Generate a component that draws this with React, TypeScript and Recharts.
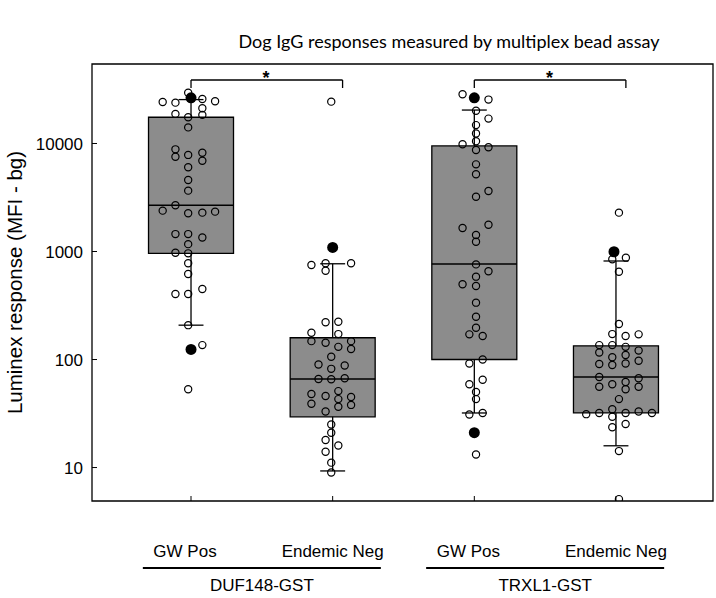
import React from 'react';
import { ComposedChart, Scatter, XAxis, YAxis, ReferenceArea, ReferenceLine, ReferenceDot, Label } from 'recharts';

const categories = ['GW Pos', 'Endemic Neg', 'GW Pos', 'Endemic Neg'];
const antigens = ['DUF148-GST', 'TRXL1-GST'];
const yTicks = [10, 100, 1000, 10000];

// box statistics, one entry per category
const lowWhisker = [208, 9.3, 32, 15.9];
const q1 = [962, 29.5, 100, 32];
const median = [2680, 66, 765, 69];
const q3 = [17500, 159, 9490, 134];
const highWhisker = [25500, 770, 20400, 817];

// individual dogs (open circles), with horizontal jitter in category units
const g1Vals = [29500, 24200, 23900, 25800, 24600, 18800, 17500, 21200, 18400, 14100, 8830, 7550, 7840, 8220, 6930, 6030, 4590, 3660, 2390, 2680, 2260, 2290, 2340, 1450, 1450, 1350, 1170, 975, 962, 778, 620, 404, 404, 450, 208, 136, 53];
const g1Jit = [-0.02, -0.2, -0.11, 0.08, 0.17, -0.11, -0.02, 0.08, 0.08, -0.02, -0.11, -0.11, -0.02, 0.08, 0.08, -0.02, -0.02, -0.02, -0.2, -0.11, -0.02, 0.08, 0.17, -0.11, -0.02, 0.08, -0.02, -0.11, -0.02, -0.02, -0.02, -0.11, -0.02, 0.08, -0.02, 0.08, -0.02];

const g2Vals = [24400, 750, 778, 664, 778, 221, 224, 177, 172, 148, 143, 131, 148, 125, 106, 90, 88, 82, 66, 65.6, 67, 48, 46, 51, 45, 39, 43, 38, 36.5, 33, 25, 21, 18, 16, 14, 11.1, 9];
const g2Jit = [-0.01, -0.15, -0.05, -0.05, 0.13, -0.05, 0.04, -0.15, 0.04, -0.15, -0.05, 0.04, 0.13, 0.13, -0.01, -0.1, 0.085, -0.01, -0.1, -0.01, 0.085, -0.15, -0.05, 0.04, 0.13, -0.15, 0.04, 0.13, 0.04, -0.05, -0.01, -0.01, -0.05, 0.04, -0.05, -0.01, -0.01];

const g3Vals = [28600, 25500, 20100, 17000, 14800, 12400, 10500, 9840, 8710, 9220, 6410, 5190, 3210, 3630, 1650, 1420, 1230, 1770, 760, 585, 656, 497, 480, 336, 249, 197, 171, 165, 92, 100, 59, 65, 50, 43, 31, 32, 13.2];
const g3Jit = [-0.083, 0.1, 0.012, 0.1, 0.012, 0.012, 0.012, -0.083, 0.012, 0.1, 0.012, 0.012, 0.012, 0.1, -0.083, 0.012, 0.012, 0.1, 0.012, 0.012, 0.1, -0.083, 0.012, 0.012, 0.012, 0.012, -0.035, 0.059, -0.035, 0.059, -0.035, 0.059, 0.012, 0.012, -0.035, 0.059, 0.012];

const g4Vals = [2290, 847, 877, 650, 213, 172, 165, 171, 136, 136, 131, 116, 105, 110, 121, 89, 91, 92, 97.5, 69, 67, 56, 59, 62, 53, 56, 43, 34.6, 31.2, 32, 32, 33, 32, 29.5, 23.6, 25.3, 14.2, 5.1];
const g4Jit = [0.021, -0.026, 0.07, 0.021, 0.021, -0.026, 0.068, 0.16, -0.118, -0.026, 0.068, -0.118, -0.026, 0.068, 0.16, -0.026, -0.118, 0.068, 0.16, -0.118, 0.16, -0.118, -0.026, 0.068, 0.068, 0.16, 0.021, -0.026, -0.21, -0.118, 0.068, 0.16, 0.254, -0.026, -0.026, 0.068, 0.021, 0.021];

// highlighted dogs (filled circles)
const filledVals = [[26500, 124], [1090], [26500, 21], [995]];
const filledJit = [[0, 0], [0], [0, 0], [-0.014]];

const groupVals = [g1Vals, g2Vals, g3Vals, g4Vals];
const groupJit = [g1Jit, g2Jit, g3Jit, g4Jit];

const X_MIN = 0.301;
const X_MAX = 4.685;
const Y_MIN = 4.9;
const Y_MAX = 54450;
const BRACKET_Y = 38700;
const BRACKET_END = 32660;

const openPoints = groupVals.flatMap((vals, g) => vals.map((v, i) => ({ x: g + 1 + groupJit[g][i], y: v })));
const filledPoints = filledVals.flatMap((vals, g) => vals.map((v, i) => ({ x: g + 1 + filledJit[g][i], y: v })));

const OpenDot = (p: any) => <circle cx={p.cx} cy={p.cy} r={3.6} fill="none" stroke="#000" strokeWidth={1.2} />;
const FilledDot = (p: any) => <circle cx={p.cx} cy={p.cy} r={5.5} fill="#000" />;

const font = 'Liberation Sans';

// integer ticks carry the category names, the .5 ticks the antigen groups
const BottomTick = (p: any) => {
    const v = p.payload.value;
    if (Number.isInteger(v)) {
        return (
            <g>
                <line x1={p.x} x2={p.x} y1={p.y} y2={p.y - 5} stroke="#000" strokeWidth={1} />
                <text x={v % 2 === 1 ? p.x - 6 : p.x} y={p.y + 56} textAnchor="middle" fontSize={17} fontFamily={font} fill="#000">{categories[v - 1]}</text>
            </g>
        );
    }
    return (
        <g>
            <line x1={p.x - 119} x2={p.x + 119} y1={p.y + 67} y2={p.y + 67} stroke="#000" strokeWidth={2} />
            <text x={p.x} y={p.y + 90} textAnchor="middle" fontSize={17} fontFamily={font} fill="#000">{antigens[v < 2 ? 0 : 1]}</text>
        </g>
    );
};

const tickFont = { fill: '#000', fontSize: 17, fontFamily: font };

export default function App() {
    return (
        <div style={{ position: 'absolute', left: 0, top: 0, width: 716, height: 598, background: '#fff' }}>
            <div style={{ position: 'absolute', left: 199, width: 500, top: 30, textAlign: 'center', fontFamily: 'Lato', fontSize: 18, color: '#000', whiteSpace: 'nowrap' }}>
                Dog IgG responses measured by multiplex bead assay
            </div>
            <ComposedChart width={716} height={598} margin={{ top: 64, right: 3, bottom: 0, left: 0 }}>
                <XAxis xAxisId="cat" dataKey="x" type="number" domain={[X_MIN, X_MAX]} allowDataOverflow ticks={[1, 1.5, 2, 3, 3.5, 4]}
                    height={97} axisLine={false} tickLine={false} tickSize={0} tickMargin={0} tick={<BottomTick />} interval={0} />
                <YAxis dataKey="y" type="number" scale="log" domain={[Y_MIN, Y_MAX]} allowDataOverflow ticks={yTicks}
                    width={92} axisLine={false} tickSize={-5} tickMargin={14} tickLine={{ stroke: '#000' }} tick={tickFont}>
                    <Label content={(props: any) => {
                        const vb = props.viewBox;
                        const cx = vb.x + 14;
                        const cy = vb.y + vb.height / 2;
                        return (
                            <text x={cx} y={cy} transform={`rotate(-90 ${cx} ${cy})`} textAnchor="middle" dominantBaseline="central"
                                fontSize={20.5} fontFamily={font} fill="#000">Luminex response (MFI - bg)</text>
                        );
                    }} />
                </YAxis>

                {categories.map((_, i) => (
                    <ReferenceArea key={`box${i}`} xAxisId="cat" x1={i + 1 - 0.3} x2={i + 1 + 0.3} y1={q1[i]} y2={q3[i]}
                        fill="#8c8c8c" fillOpacity={1} stroke="#000" strokeWidth={1.3} />
                ))}
                {categories.map((_, i) => (
                    <ReferenceLine key={`wu${i}`} xAxisId="cat" segment={[{ x: i + 1, y: q3[i] }, { x: i + 1, y: highWhisker[i] }]} stroke="#000" strokeWidth={1.3} />
                ))}
                {categories.map((_, i) => (
                    <ReferenceLine key={`wl${i}`} xAxisId="cat" segment={[{ x: i + 1, y: q1[i] }, { x: i + 1, y: lowWhisker[i] }]} stroke="#000" strokeWidth={1.3} />
                ))}
                {categories.map((_, i) => (
                    <ReferenceLine key={`cu${i}`} xAxisId="cat" segment={[{ x: i + 1 - 0.088, y: highWhisker[i] }, { x: i + 1 + 0.088, y: highWhisker[i] }]} stroke="#000" strokeWidth={1.3} />
                ))}
                {categories.map((_, i) => (
                    <ReferenceLine key={`cl${i}`} xAxisId="cat" segment={[{ x: i + 1 - 0.088, y: lowWhisker[i] }, { x: i + 1 + 0.088, y: lowWhisker[i] }]} stroke="#000" strokeWidth={1.3} />
                ))}
                {categories.map((_, i) => (
                    <ReferenceLine key={`md${i}`} xAxisId="cat" segment={[{ x: i + 1 - 0.3, y: median[i] }, { x: i + 1 + 0.3, y: median[i] }]} stroke="#000" strokeWidth={1.5} />
                ))}

                {[1, 3].map((c) => (
                    <ReferenceLine key={`bl${c}`} xAxisId="cat" segment={[{ x: c, y: BRACKET_END }, { x: c, y: BRACKET_Y }]} stroke="#000" strokeWidth={1.3} />
                ))}
                {[1, 3].map((c) => (
                    <ReferenceLine key={`bh${c}`} xAxisId="cat" segment={[{ x: c, y: BRACKET_Y }, { x: c + 1.07, y: BRACKET_Y }]} stroke="#000" strokeWidth={1.3} />
                ))}
                {[1, 3].map((c) => (
                    <ReferenceLine key={`be${c}`} xAxisId="cat" segment={[{ x: c + 1.07, y: BRACKET_Y }, { x: c + 1.07, y: BRACKET_END }]} stroke="#000" strokeWidth={1.3} />
                ))}
                {[1, 3].map((c) => (
                    <ReferenceDot key={`st${c}`} xAxisId="cat" x={c + 0.53} y={BRACKET_Y} r={0} stroke="none" fill="none">
                        <Label value="*" position="top" offset={-4} fontSize={18} fontWeight="bold" fill="#000" fontFamily={font} />
                    </ReferenceDot>
                ))}

                <Scatter xAxisId="cat" data={openPoints} shape={<OpenDot />} isAnimationActive={false} />
                <Scatter xAxisId="cat" data={filledPoints} shape={<FilledDot />} isAnimationActive={false} />

                <ReferenceArea xAxisId="cat" x1={X_MIN} x2={X_MAX} y1={Y_MIN} y2={Y_MAX} fill="none" stroke="#000" strokeWidth={1.3} />
            </ComposedChart>
        </div>
    );
}
